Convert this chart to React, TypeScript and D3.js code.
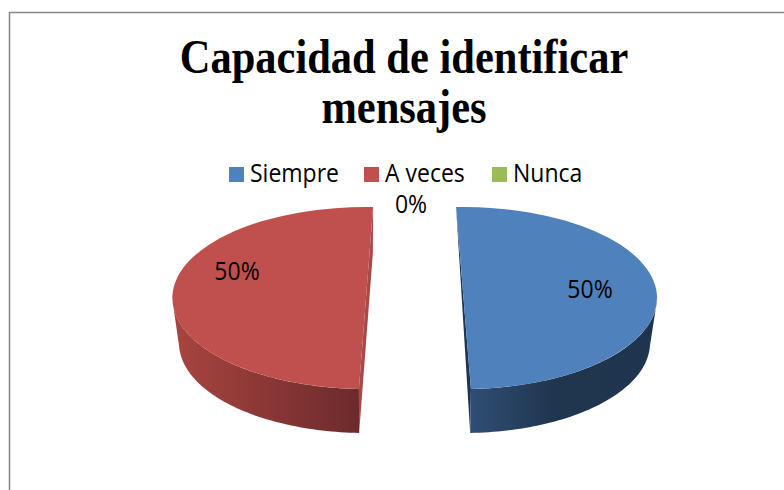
import React from "react";
import * as d3 from "d3";

const categories = ["Siempre", "A veces", "Nunca"];
const values = [50, 50, 0];
const labels = ["50%", "50%", "0%"];
const titleLines = ["Capacidad de identificar", "mensajes"];
const topColors = ["#4f81bd", "#c0504d", "#9bbb59"];
const chordColors = ["#1f3550", "#a64a48", "#7a9a3f"];

const W = 784, H = 490;
const rad = (d: number) => (d * Math.PI) / 180;
const pie = d3.pie<number>().sort(null).startAngle(rad(-2.2)).endAngle(rad(357.8));
const arcs = pie(values);
// per-slice perspective twist, explosion centres, top and bottom ellipses
const twist = [0, rad(4.3)];
const topC = [[463.5, 298], [366, 298]];
const botC = [[463, 343], [366, 343]];
const Rx = 193.5, Ry = 91, bRx = 187, bRy = 90;
const UNIT = 1000;

function pt(c: number[], rx: number, ry: number, a: number): [number, number] {
  return [c[0] + rx * Math.sin(a), c[1] - ry * Math.cos(a)];
}
const line = d3.line();

export default function App() {
  const legendX = d3.scaleOrdinal<string, number>().domain(categories).range([229, 364, 492]);
  const arcGen = d3.arc<any>().innerRadius(0).outerRadius(UNIT);
  return (
    <svg width={W} height={H} style={{ position: "absolute", left: 0, top: 0, background: "#fff" }}>
      <defs>
        <linearGradient id="wall0" gradientUnits="userSpaceOnUse" x1="470" x2="655" y1="0" y2="0">
          <stop offset="0" stopColor="#2f4d75" />
          <stop offset="0.45" stopColor="#20364f" />
          <stop offset="1" stopColor="#1f344e" />
        </linearGradient>
        <linearGradient id="wall1" gradientUnits="userSpaceOnUse" x1="175" x2="360" y1="0" y2="0">
          <stop offset="0" stopColor="#a8443f" />
          <stop offset="1" stopColor="#6c2a2c" />
        </linearGradient>
      </defs>
      <path d={`M9.5 490V12.5H784`} fill="none" stroke="#868686" strokeWidth={1.5} />
      {titleLines.map((t, i) => (
        <text key={t} transform={`translate(404,${73 + i * 49.5}) scale(1,1.12)`} textAnchor="middle"
          fontFamily="Liberation Serif" fontWeight="bold" fontSize={42.5} fill="#000">{t}</text>
      ))}
      {categories.map((c, i) => (
        <g key={c}>
          <rect x={legendX(c)} y={167} width={15} height={15} fill={topColors[i]} />
          <text transform={`translate(${legendX(c) + 21},182) scale(1,1.1)`} fontFamily="Open Sans"
            fontSize={23} fill="#000">{c}</text>
        </g>
      ))}
      {arcs.slice(0, 2).map((a, i) => {
        const s = a.startAngle + twist[i], e = a.endAngle + twist[i];
        const c = topC[i], b = botC[i];
        const from = i === 0 ? rad(92) : s;
        const to = i === 0 ? e : rad(268);
        const angles = d3.range(0, 61).map((k) => from + ((to - from) * k) / 60);
        const wall = [
          ...angles.map((t) => pt(c, Rx, Ry, t)),
          ...angles.slice().reverse().map((t) => pt(b, bRx, bRy, t)),
        ];
        const apexAngle = i === 0 ? s : e;
        const footAngle = i === 0 ? e : s;
        const chord = i === 0
          ? [pt(c, Rx, Ry, apexAngle), pt(c, Rx, Ry, footAngle), pt(b, bRx, bRy, footAngle)]
          : [pt(c, Rx, Ry, apexAngle), pt(b, bRx, bRy, apexAngle), pt(b, bRx, bRy, footAngle), pt(c, Rx, Ry, footAngle)];
        return (
          <g key={categories[i]}>
            <path d={line(chord)! + "Z"} fill={chordColors[i]} />
            <path d={line(wall)! + "Z"} fill={`url(#wall${i})`} />
            <path transform={`translate(${c[0]},${c[1]}) scale(${Rx / UNIT},${Ry / UNIT})`}
              d={arcGen({ startAngle: s, endAngle: e })!} fill={topColors[i]} />
          </g>
        );
      })}
      {[[590, 298], [237, 280], [411, 213]].map(([x, y], i) => (
        <text key={i} x={0} y={0} transform={`translate(${x},${y}) scale(1,1.1)`} textAnchor="middle"
          fontFamily="Open Sans" fontSize={23} fill="#000">{labels[i]}</text>
      ))}
    </svg>
  );
}
